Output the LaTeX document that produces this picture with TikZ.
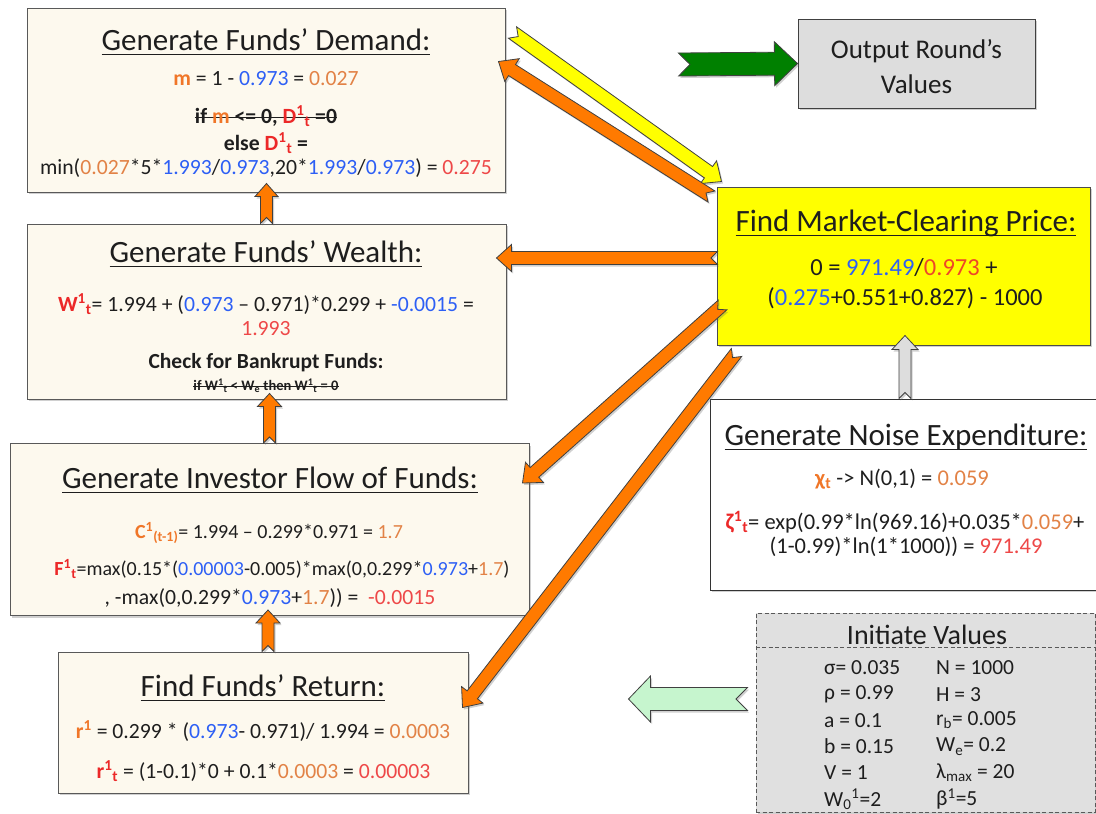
\documentclass[tikz,border=0pt]{standalone}
\usepackage{fontspec}
\setmainfont{Carlito}
\usetikzlibrary{calc,shadows}

\definecolor{boxcream}{RGB}{253,249,238}
\definecolor{boxgrey}{RGB}{221,221,221}
\definecolor{initgrey}{RGB}{224,224,224}
\definecolor{arroworange}{RGB}{255,122,0}
\definecolor{arrowyellow}{RGB}{255,255,0}
\definecolor{arrowgreen}{RGB}{0,128,0}
\definecolor{arrowmint}{RGB}{198,245,206}
\definecolor{numblue}{RGB}{45,95,245}
\definecolor{numorange}{RGB}{226,130,70}
\definecolor{numred}{RGB}{238,72,72}
\definecolor{lblorange}{RGB}{240,118,40}
\definecolor{lblred}{RGB}{236,40,40}
\definecolor{txtdark}{RGB}{30,30,30}

\newsavebox{\strikebox}
\newcommand{\strike}[1]{\sbox{\strikebox}{#1}\rlap{\rule[0.26em]{\wd\strikebox}{0.9pt}}\usebox{\strikebox}}
\newcommand{\undl}[1]{\sbox{\strikebox}{#1}\rlap{\rule[-5pt]{\wd\strikebox}{1.3pt}}\usebox{\strikebox}}
\newcommand{\numb}[1]{\textcolor{numblue}{#1}}
\newcommand{\numo}[1]{\textcolor{numorange}{#1}}
\newcommand{\numr}[1]{\textcolor{numred}{#1}}
\newcommand{\lblo}[1]{\textcolor{lblorange}{\bfseries #1}}
\newcommand{\lblr}[1]{\textcolor{lblred}{\bfseries #1}}
\newcommand{\supsub}[2]{\textsuperscript{#1}\textsubscript{#2}}

% block arrow with notched tail: [style]{from}{to}{shaft}{head}{head length}
\newcommand{\fatarrow}[6][]{%
  \path[#1] let \p1=(#2), \p2=(#3), \n1={atan2(\y2-\y1,\x2-\x1)} in
    ($(\p1)+({\n1+90}:#4)$) -- ($(\p2)+({\n1+180}:#6)+({\n1+90}:#4)$)
    -- ($(\p2)+({\n1+180}:#6)+({\n1+90}:#5)$) -- (\p2)
    -- ($(\p2)+({\n1+180}:#6)+({\n1-90}:#5)$) -- ($(\p2)+({\n1+180}:#6)+({\n1-90}:#4)$)
    -- ($(\p1)+({\n1-90}:#4)$) -- ($(\p1)+(\n1:#4)$) -- cycle;}

\begin{document}
\begin{tikzpicture}[x=1pt,y=-1pt,
    shade/.style={drop shadow={shadow xshift=1.5pt,shadow yshift=-2pt,opacity=0.3,fill=black!60}},
    fundbox/.style={draw=black!65,line width=1pt,fill=boxcream,inner sep=0pt,shade},
    titletxt/.style={inner sep=0pt,text=txtdark,font=\fontsize{31}{36}\selectfont},
    bodytxt/.style={inner sep=0pt,text=txtdark,font=\fontsize{21.7}{26}\selectfont},
    inittxt/.style={inner sep=0pt,text=txtdark,anchor=west,font=\fontsize{21.5}{25}\selectfont},
    orangearrow/.style={fill=arroworange,draw=black!75,line width=0.8pt,shade},
    yellowarrow/.style={fill=arrowyellow,draw=black!75,line width=0.8pt,shade},
    greenarrow/.style={fill=arrowgreen,draw=black!75,line width=0.8pt,shade},
    mintarrow/.style={fill=arrowmint,draw=black!75,line width=0.8pt,shade},
    greyarrow/.style={fill=boxgrey,draw=black!75,line width=0.8pt,shade}]
    \clip (0,0) rectangle (1096,814);
    \fill[white] (0,0) rectangle (1096,814);

    % Boxes
    \node[fundbox,minimum width=478,minimum height=184] (demand) at (266,100) {};
    \node[fundbox,minimum width=479,minimum height=175] (wealth) at (266.5,311.5) {};
    \node[fundbox,minimum width=519,minimum height=172] (invest) at (269.5,529.5) {};
    \node[fundbox,minimum width=410,minimum height=141] (return) at (263,722.5) {};
    \node[fundbox,fill=arrowyellow,draw=black!70,minimum width=373,minimum height=158] (mcp) at (903.5,266) {};
    \node[fundbox,fill=white,draw=black!80,minimum width=390,minimum height=191] (noise) at (905,494.5) {};
    \node[fundbox,fill=initgrey,draw=black!65,dashed,dash pattern=on 4pt off 2.5pt,minimum width=339,minimum height=199] (init) at (925.5,712.5) {};
    \node[fundbox,fill=boxgrey,draw=black!75,minimum width=237,minimum height=89] (output) at (916.5,63.5) {};
    \draw[black!65,line width=1pt,dash pattern=on 4pt off 2.5pt] (init.west |- 0,647) -- (init.east |- 0,647);

    % Funds' demand
    \node[titletxt] (dmdtitle) at (266,42) {\undl{Generate Funds’ Demand:}};
    \node[bodytxt] (dmdm) at (266,79) {\lblo{m} = 1 - \numb{0.973} = \numo{0.027}};
    \node[bodytxt] (dmdif) at (266,116) {\bfseries\strike{if \textcolor{lblorange}{m} <= 0, \textcolor{lblred}{D\supsub{1}{t}} =0}};
    \node[bodytxt] (dmdelse) at (266,143) {\bfseries else \textcolor{lblred}{D\supsub{1}{t}} =};
    \node[bodytxt] (dmdmin) at (266,168) {min(\numo{0.027}*5*\numb{1.993}/\numb{0.973},20*\numb{1.993}/\numb{0.973}) = \numr{0.275}};

    % Funds' wealth
    \node[titletxt] (wlttitle) at (266,254) {\undl{Generate Funds’ Wealth:}};
    \node[bodytxt] (wltw) at (266,304) {\lblr{W\supsub{1}{t}}= 1.994 + (\numb{0.973} – 0.971)*0.299 + \numb{-0.0015} =};
    \node[bodytxt] (wltval) at (266,329) {\numr{1.993}};
    \node[bodytxt,font=\fontsize{21.5}{25}\selectfont\bfseries] (wltcheck) at (266,363) {Check for Bankrupt Funds:};
    \node[bodytxt,font=\fontsize{14.5}{16}\selectfont\bfseries] (wltif) at (266,386) {\strike{if W\supsub{1}{t} < W\textsubscript{e} then W\supsub{1}{t} = 0}};

    % Investor flow
    \node[titletxt] (invtitle) at (270,480) {\undl{Generate Investor Flow of Funds:}};
    \node[bodytxt,font=\fontsize{20}{24}\selectfont] (invc) at (269,533) {\lblo{C\supsub{1}{(t-1)}}= 1.994 – 0.299*0.971 = \numo{1.7}};
    \node[bodytxt,font=\fontsize{20}{24}\selectfont] (invf) at (282,569) {\lblr{F\supsub{1}{t}}=max(0.15*(\numb{0.00003}-0.005)*max(0,0.299*\numb{0.973}+\numo{1.7})};
    \node[bodytxt] (invf2) at (270,598) {, -max(0,0.299*\numb{0.973}+\numo{1.7})) =\ \ \numr{-0.0015}};

    % Funds' return
    \node[titletxt] (rettitle) at (263,688) {\undl{Find Funds’ Return:}};
    \node[bodytxt] (retr) at (263,731) {\lblo{r\textsuperscript{1}} = 0.299 * (\numb{0.973}- 0.971)/ 1.994 = \numo{0.0003}};
    \node[bodytxt] (retrt) at (263.5,771) {\lblr{r\supsub{1}{t}} = (1-0.1)*0 + 0.1*\numo{0.0003} = \numr{0.00003}};

    % Market-clearing price
    \node[titletxt] (mcptitle) at (906,223) {\undl{Find Market-Clearing Price:}};
    \node[bodytxt,font=\fontsize{24.5}{29}\selectfont] (mcpl1) at (904,268) {0 = \numb{971.49}/\textcolor{lblred!60!lblorange}{0.973} +};
    \node[bodytxt,font=\fontsize{24.5}{29}\selectfont] (mcpl2) at (905,298) {(\numb{0.275}+0.551+0.827) - 1000};

    % Noise expenditure
    \node[titletxt] (noisetitle) at (906,437) {\undl{Generate Noise Expenditure:}};
    \node[bodytxt,font=\fontsize{22.5}{27}\selectfont] (noisechi) at (902,479) {\lblo{χ\textsubscript{t}} -> N(0,1) = \numo{0.059}};
    \node[bodytxt,font=\fontsize{22.5}{27}\selectfont] (noisez1) at (905,522) {\lblr{ζ\supsub{1}{t}}= exp(0.99*ln(969.16)+0.035*\numo{0.059}+};
    \node[bodytxt,font=\fontsize{22.5}{27}\selectfont] (noisez2) at (906,547) {(1-0.99)*ln(1*1000)) = \numr{971.49}};

    % Initiate values
    \node[inittxt,anchor=center,font=\fontsize{28}{32}\selectfont] (inittitle) at (927,635) {Initiate Values};
    \foreach \lft/\rgt [count=\i] in {σ= 0.035/N = 1000, ρ = 0.99/H = 3, a = 0.1/r\textsubscript{b}= 0.005,
        b = 0.15/W\textsubscript{e}= 0.2, V = 1/λ\textsubscript{max} = 20, W\textsubscript{0}\textsuperscript{1}=2/β\textsuperscript{1}=5}{
      \node[inittxt] (initl\i) at (824,{668+26.2*(\i-1)}) {\lft};
      \node[inittxt] (initr\i) at (936,{668+26.2*(\i-1)}) {\rgt};
    }

    % Output
    \node[inittxt,anchor=center,align=center,font=\fontsize{27}{35}\selectfont] (outtxt) at ($(output.center)+(0,3)$) {Output Round’s\\Values};

    % Arrow end points
    \coordinate (yelout) at ($(demand.north east)+(7,25)$);
    \coordinate (yelin) at ($(mcp.north west)+(5,-5)$);
    \coordinate (dmdtail) at ($(mcp.north west)+(-5,10)$);
    \coordinate (dmdtip) at ($(demand.north east)+(-7,54)$);
    \coordinate (wlttail) at ($(mcp.west)+(1,-8)$);
    \coordinate (wlttip) at ($(wealth.east)+(-10,-53.5)$);
    \coordinate (invtail) at ($(mcp.west)+(6,39)$);
    \coordinate (invtip) at ($(invest.north east)+(-7,40)$);
    \coordinate (rettail) at ($(mcp.south west)+(20,7)$);
    \coordinate (rettip) at ($(return.north east)+(-6,56)$);
    \coordinate (outtail) at ($(output.west)+(-119,1)$);
    \coordinate (inittail) at ($(init.west)+(-8,-13.5)$);
    \coordinate (inittip) at ($(init.west)+(-127,-13.5)$);

    % Arrows
    \fatarrow[orangearrow]{wealth.north}{$(wealth.north |- demand.south)+(0,-9)$}{6pt}{11.5pt}{13pt}
    \fatarrow[orangearrow]{invest.north}{$(invest.north |- wealth.south)+(0,-6)$}{6pt}{12pt}{13pt}
    \fatarrow[orangearrow]{$(return.north)+(5,0)$}{$(return.north |- invest.south)+(5,-6)$}{6pt}{12pt}{13pt}
    \fatarrow[yellowarrow]{yelout}{yelin}{7pt}{14pt}{16pt}
    \fatarrow[orangearrow]{dmdtail}{dmdtip}{6.5pt}{13.5pt}{16pt}
    \fatarrow[orangearrow]{wlttail}{wlttip}{6.5pt}{13.5pt}{15pt}
    \fatarrow[orangearrow]{invtail}{invtip}{6.5pt}{13.5pt}{16pt}
    \fatarrow[orangearrow]{rettail}{rettip}{6.5pt}{13.5pt}{16pt}
    \fatarrow[greyarrow]{noise.north}{$(noise.north |- mcp.south)+(0,-10)$}{6pt}{13pt}{14pt}
    \fatarrow[greenarrow]{outtail}{output.west}{11.5pt}{22pt}{23pt}
    \fatarrow[mintarrow]{inittail}{inittip}{11.5pt}{23pt}{22pt}
\end{tikzpicture}
\end{document}
